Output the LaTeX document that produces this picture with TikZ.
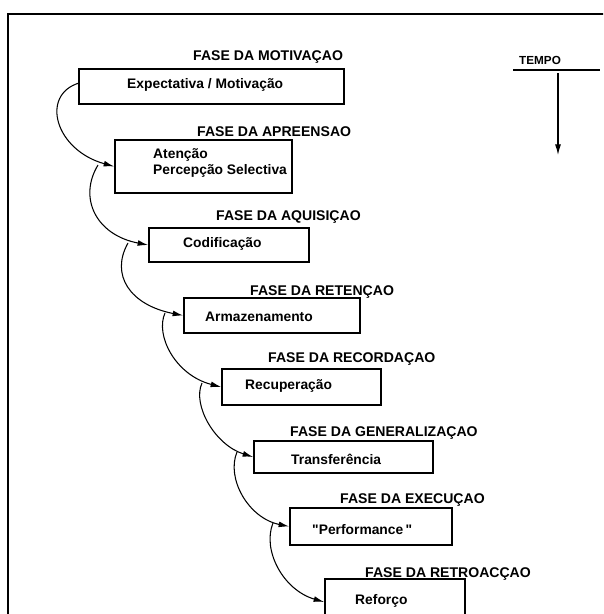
\documentclass[tikz,border=0pt]{standalone}
\usepackage{fontspec}
\setmainfont{Liberation Sans}
\newfontfamily\plainquotes{Liberation Sans}
\usetikzlibrary{fit,arrows.meta}
\tikzset{
    phasebox/.style={draw, line width=1.4pt, inner sep=0pt},
    phasename/.style={anchor=west, inner sep=0pt, font=\fontsize{12}{14}\selectfont\bfseries},
    phasetext/.style={anchor=west, inner sep=0pt, align=left, font=\fontsize{11.8}{13.5}\selectfont\bfseries},
    flow/.style={line width=0.9pt, -{Latex[length=9pt,width=5pt]}}
}
\begin{document}
\begin{tikzpicture}[x=0.03cm, y=-0.03cm]
    \clip (0,0) rectangle (603,614);
    \draw[line width=1.2pt] (8,630) -- (8,14) -- (620,14);

    % phase boxes
    \node[phasebox, fit={(79,69) (344,104)}] (b1) {}; \node[phasebox, fit={(115,140) (292,193)}] (b2) {};
    \node[phasebox, fit={(149,228) (309,262)}] (b3) {}; \node[phasebox, fit={(184,298) (360,333)}] (b4) {};
    \node[phasebox, fit={(222,369) (381,405)}] (b5) {}; \node[phasebox, fit={(254,441) (433,473)}] (b6) {};
    \node[phasebox, fit={(290,508) (452,545)}] (b7) {}; \node[phasebox, fit={(325,579) (465,625)}] (b8) {};

    % phase names
    \node[phasename] (h1) at (193,57) {FASE DA MOTIVAÇAO};
    \node[phasename] (h2) at (197,132) {FASE DA APREENSAO};
    \node[phasename] (h3) at (216,217) {FASE DA AQUISIÇAO};
    \node[phasename] (h4) at (250,292) {FASE DA RETENÇAO};
    \node[phasename] (h5) at (268,359) {FASE DA RECORDAÇAO};
    \node[phasename] (h6) at (290,433) {FASE DA GENERALIZAÇAO};
    \node[phasename] (h7) at (340,500) {FASE DA EXECUÇAO};
    \node[phasename] (h8) at (365,574) {FASE DA RETROACÇAO};

    % box texts
    \node[phasetext] (t1) at (127,85) {Expectativa / Motivação};
    \node[phasetext] (t2) at (153,163) {Atenção\\Percepção Selectiva};
    \node[phasetext] (t3) at (183,244) {Codificação};
    \node[phasetext] (t4) at (205,317) {Armazenamento};
    \node[phasetext] (t5) at (245,386) {Recuperação};
    \node[phasetext] (t6) at (291,459) {Transferência};
    \node[phasetext] (t7) at (312,530) {\plainquotes"Performance\,"};
    \node[phasetext] (t8) at (355,601) {Reforço};

    % connectors
    \coordinate (s1) at (79,83); \coordinate (s2) at (98,165); \coordinate (s3) at (128,243);
    \coordinate (s4) at (165,313); \coordinate (s5) at (202,383); \coordinate (s6) at (237,452);
    \coordinate (s7) at (273,523);
    \draw[flow] (s1) .. controls (40,95) and (55,150) .. (b2.west);
    \draw[flow] (s2) .. controls (78,198) and (96,235) .. (b3.west);
    \draw[flow] (s3) .. controls (110,275) and (130,305) .. (b4.west);
    \draw[flow] (s4) .. controls (155,335) and (175,375) .. (b5.west);
    \draw[flow] (s5) .. controls (192,405) and (215,445) .. (b6.west);
    \draw[flow] (s6) .. controls (226,478) and (248,518) .. (b7.west);
    \draw[flow] (s7) .. controls (262,550) and (283,590) .. (b8.west);

    % time axis
    \node[phasename, font=\fontsize{10}{12}\selectfont\bfseries] (tempo) at (519,60) {TEMPO};
    \coordinate (tl) at (513,70); \coordinate (tr) at (600,70);
    \coordinate (tt) at (558,73); \coordinate (tb) at (558,155);
    \draw[line width=1pt] (tl) -- (tr);
    \draw[flow] (tt) -- (tb);
\end{tikzpicture}
\end{document}
